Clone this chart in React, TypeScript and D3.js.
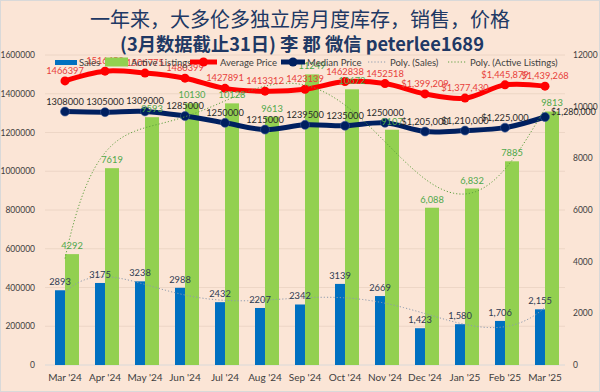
import React from 'react';
import * as d3 from 'd3';

const categories = ["Mar '24", "Apr '24", "May '24", "Jun '24", "Jul '24", "Aug '24", "Sep '24", "Oct '24", "Nov '24", "Dec '24", "Jan '25", "Feb '25", "Mar '25"];
const sales = [2893, 3175, 3238, 2988, 2432, 2207, 2342, 3139, 2669, 1423, 1580, 1706, 2155];
const activeListings = [4292, 7619, 9593, 10130, 10128, 9613, 11249, 10672, 9107, 6088, 6832, 7885, 9813];
const averagePrice = [1466397, 1516458, 1506775, 1480399, 1427891, 1413312, 1423139, 1462838, 1452518, 1399209, 1377430, 1445879, 1439268];
const medianPrice = [1308000, 1305000, 1309000, 1285000, 1250000, 1215000, 1239500, 1235000, 1250000, 1205000, 1210000, 1225000, 1280000];
const leftTicks = [0, 200000, 400000, 600000, 800000, 1000000, 1200000, 1400000, 1600000];
const rightTicks = [0, 2000, 4000, 6000, 8000, 10000, 12000];
// indices whose data labels use thousands separators / currency format
const salesCommaIdx = [9, 10, 11, 12];
const activeCommaIdx = [9, 10];
const priceDollarIdx = [9, 10, 11, 12];
const TREND_ORDER = 6;

const W = 600, H = 392;
const X0 = 45, X1 = 565, Y0 = 365, Y1 = 55;
const FONT = 'Lato, "Noto Sans", sans-serif';
const TITLE_FONT = '"Noto Sans CJK SC", "Noto Sans", sans-serif';

const C_BLUE = '#0070C0';
const C_GREEN = '#92D050';
const C_RED = '#FF0000';
const C_NAVY = '#002060';

function polyFit(ys: number[], order: number) {
  const n = ys.length;
  const mid = (n + 1) / 2, half = (n - 1) / 2;
  const ts = ys.map((_, i) => (i + 1 - mid) / half);
  const m = order + 1;
  const A: number[][] = [];
  for (let r = 0; r < m; r++) {
    const row: number[] = [];
    for (let c = 0; c < m; c++) row.push(d3.sum(ts, t => Math.pow(t, r + c)));
    row.push(d3.sum(ts.map((t, i) => Math.pow(t, r) * ys[i])));
    A.push(row);
  }
  for (let col = 0; col < m; col++) {
    let piv = col;
    for (let r = col + 1; r < m; r++) if (Math.abs(A[r][col]) > Math.abs(A[piv][col])) piv = r;
    [A[col], A[piv]] = [A[piv], A[col]];
    for (let r = 0; r < m; r++) {
      if (r === col) continue;
      const f = A[r][col] / A[col][col];
      for (let c = col; c <= m; c++) A[r][c] -= f * A[col][c];
    }
  }
  const coef = A.map((row, i) => row[m] / row[i]);
  return (xIdx: number) => {
    const t = (xIdx + 1 - mid) / half;
    return coef.reduce((s, c, k) => s + c * Math.pow(t, k), 0);
  };
}

export default function App() {
  const x = d3.scaleBand<string>().domain(categories).range([X0, X1]).paddingInner(0).paddingOuter(0);
  const cx = (i: number) => (x(categories[i]) as number) + x.bandwidth() / 2;
  const yL = d3.scaleLinear().domain([0, 1600000]).range([Y0, Y1]);
  const yR = d3.scaleLinear().domain([0, 12000]).range([Y0, Y1]);

  const lineL = d3.line<number>().x((_, i) => cx(i)).y(d => yL(d)).curve(d3.curveCatmullRom.alpha(0.5));

  const fmtComma = d3.format(',');
  const fmtPlain = d3.format('d');
  const fmtDollar = d3.format('$,');

  const sampleN = 200;
  const trendPath = (vals: number[]) => {
    const f = polyFit(vals, TREND_ORDER);
    const pts: [number, number][] = d3.range(sampleN + 1).map(k => {
      const xi = (k / sampleN) * (vals.length - 1);
      const px = cx(0) + (cx(vals.length - 1) - cx(0)) * (xi / (vals.length - 1));
      return [px, yR(f(xi))];
    });
    return d3.line()(pts) as string;
  };

  const bw = 10, gw = 14;
  const LBL = 9.3;

  return (
    <svg width={W} height={H} style={{ position: 'absolute', left: 0, top: 0 }} xmlns="http://www.w3.org/2000/svg">
      <rect x={0} y={0} width={W} height={H} fill="#FBE5D6" />
      <rect x={0.5} y={0.5} width={W - 1} height={H - 1} fill="none" stroke="#D9D9D9" />

      {/* title */}
      <text x={W / 2} y={27} textAnchor="middle" fontFamily={TITLE_FONT} fontSize={20} fill="#203864">一年来，大多伦多独立房月度库存，销售，价格</text>
      <text x={W / 2 + 2} y={51} textAnchor="middle" fontFamily={TITLE_FONT} fontSize={18.3} fontWeight="bold" fill="#203864">(3月数据截止31日) 李 郡 微信 peterlee1689</text>

      {/* gridlines */}
      {leftTicks.slice(1).map(t => (
        <line key={'g' + t} x1={X0} x2={X1} y1={yL(t)} y2={yL(t)} stroke="#EAD2C1" strokeWidth={0.8} />
      ))}
      <line x1={X0} x2={X1} y1={Y0} y2={Y0} stroke="#D9D9D9" strokeWidth={1} />

      {/* axis labels */}
      {leftTicks.map(t => (
        <text key={'l' + t} x={35} y={yL(t) + 3} textAnchor="end" fontFamily={FONT} fontSize={8.5} fill="#404040">{t}</text>
      ))}
      {rightTicks.map(t => (
        <text key={'r' + t} x={573} y={yR(t) + 3} textAnchor="start" fontFamily={FONT} fontSize={8.5} fill="#404040">{t}</text>
      ))}
      {categories.map((c, i) => (
        <text key={'c' + c} x={cx(i)} y={381} textAnchor="middle" fontFamily={FONT} fontSize={10} fill="#404040">{c}</text>
      ))}

      {/* bars */}
      {sales.map((v, i) => (
        <rect key={'s' + i} x={cx(i) - bw} y={yR(v)} width={bw} height={Y0 - yR(v)} fill={C_BLUE} />
      ))}
      {activeListings.map((v, i) => (
        <rect key={'a' + i} x={cx(i)} y={yR(v)} width={gw} height={Y0 - yR(v)} fill={C_GREEN} />
      ))}

      {/* price lines */}
      <path d={lineL(averagePrice) as string} fill="none" stroke={C_RED} strokeWidth={5} strokeLinejoin="round" strokeLinecap="round" />
      {averagePrice.map((v, i) => (
        <circle key={'ap' + i} cx={cx(i)} cy={yL(v)} r={4.5} fill={C_RED} />
      ))}
      <path d={lineL(medianPrice) as string} fill="none" stroke={C_NAVY} strokeWidth={5} strokeLinejoin="round" strokeLinecap="round" />
      {medianPrice.map((v, i) => (
        <circle key={'mp' + i} cx={cx(i)} cy={yL(v)} r={4.5} fill={C_NAVY} stroke="#3A5A9A" strokeWidth={0.6} />
      ))}

      {/* trend lines */}
      <path d={trendPath(sales)} fill="none" stroke="#8C9AAE" strokeWidth={1} strokeDasharray="1.2,2" />
      <path d={trendPath(activeListings)} fill="none" stroke="#5FA040" strokeWidth={1} strokeDasharray="1.2,2" />

      {/* data labels */}
      {sales.map((v, i) => (
        <text key={'sl' + i} x={cx(i) - bw / 2} y={yR(v) - 5} textAnchor="middle" fontFamily={FONT} fontSize={LBL} fill="#2F3B52">
          {salesCommaIdx.includes(i) ? fmtComma(v) : fmtPlain(v)}
        </text>
      ))}
      {activeListings.map((v, i) => (
        <text key={'al' + i} x={cx(i) + gw / 2} y={yR(v) - 5} textAnchor="middle" fontFamily={FONT} fontSize={LBL} fill="#4FA84A">
          {activeCommaIdx.includes(i) ? fmtComma(v) : fmtPlain(v)}
        </text>
      ))}
      {averagePrice.map((v, i) => (
        <text key={'apl' + i} x={cx(i)} y={yL(v) - 7} textAnchor="middle" fontFamily={FONT} fontSize={LBL} fill="#E8403A">
          {priceDollarIdx.includes(i) ? fmtDollar(v) : fmtPlain(v)}
        </text>
      ))}
      {medianPrice.map((v, i) => {
        const last = i === medianPrice.length - 1;
        return (
          <text key={'mpl' + i} x={last ? cx(i) + 6 : cx(i)} y={last ? yL(v) - 2 : yL(v) - 7} textAnchor={last ? 'start' : 'middle'} fontFamily={FONT} fontSize={last ? 8.8 : LBL} fill="#2A2A2A">
            {priceDollarIdx.includes(i) ? fmtDollar(v) : fmtPlain(v)}
          </text>
        );
      })}

      {/* legend */}
      <g fontFamily={FONT} fontSize={9.5} fill="#404040">
        <rect x={55} y={60} width={22} height={5} fill={C_BLUE} />
        <text x={79} y={65.5}>Sales</text>
        <rect x={105} y={57.5} width={23} height={9} fill={C_GREEN} />
        <text x={131} y={65.5}>Active Listings</text>
        <line x1={190} x2={217} y1={62} y2={62} stroke={C_RED} strokeWidth={5} />
        <circle cx={203.5} cy={62} r={4.5} fill={C_RED} />
        <text x={220} y={65.5}>Average Price</text>
        <line x1={281} x2={305} y1={62} y2={62} stroke={C_NAVY} strokeWidth={5} />
        <circle cx={293} cy={62} r={4.5} fill={C_NAVY} />
        <text x={307} y={65.5}>Median Price</text>
        <line x1={368} x2={387} y1={62} y2={62} stroke="#8C9AAE" strokeWidth={1} strokeDasharray="1.2,2" />
        <text x={390} y={65.5}>Poly. (Sales)</text>
        <line x1={448} x2={467} y1={62} y2={62} stroke="#5FA040" strokeWidth={1} strokeDasharray="1.2,2" />
        <text x={470} y={65.5}>Poly. (Active Listings)</text>
      </g>
    </svg>
  );
}
